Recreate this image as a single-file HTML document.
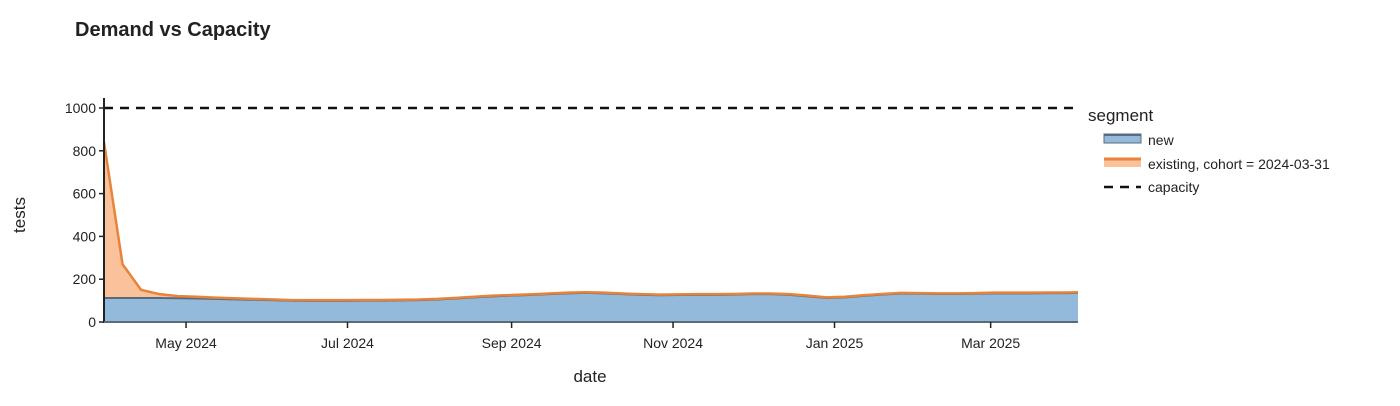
<!DOCTYPE html>
<html><head><meta charset="utf-8"><style>
body{margin:0;background:#fff;width:1400px;height:401px;overflow:hidden}
svg text{font-family:"Liberation Sans","DejaVu Sans",sans-serif;fill:#222}
</style></head><body>
<svg id="c" width="1400" height="401" xmlns="http://www.w3.org/2000/svg">
<text x="75" y="36" font-size="20" font-weight="bold">Demand vs Capacity</text>
<g id="plot"></g>
<text x="590" y="382" font-size="17" text-anchor="middle">date</text>
<text x="25" y="215" font-size="17" text-anchor="middle" transform="rotate(-90 25 215)">tests</text>
<g>
<text x="1088" y="121" font-size="17">segment</text>
<g>
<rect x="1104" y="134" width="37" height="9" fill="#93b9db" stroke="#5a6b7c" stroke-width="1"/>
<line x1="1104" y1="135" x2="1141" y2="135" stroke="#5a6b7c" stroke-width="2"/>
<text x="1148" y="145" font-size="14">new</text></g>
<g>
<rect x="1104" y="158" width="37" height="9" fill="#f9c29a"/>
<line x1="1104" y1="159" x2="1141" y2="159" stroke="#e8833a" stroke-width="3"/>
<text x="1148" y="169" font-size="14">existing, cohort = 2024-03-31</text></g>
<g>
<line x1="1104" y1="187" x2="1141" y2="187" stroke="#111" stroke-width="2.5" stroke-dasharray="9,7"/>
<text x="1148" y="192" font-size="14">capacity</text></g>
</g>
</svg>
<script>
const newVals=[112,112,112,112,111,110,108,106,104,102,100,99,99,99,100,100,101,102,105,110,115,120,123,126,130,134,136,134,130,127,125,126,127,127,128,130,130,127,120,112,115,122,128,133,132,131,131,132,134,134,134,135,135,136];
const existingVals=[728,158,38,18,10,8,6,5,4,4,3,3,3,3,3,3,3,3,3,3,3,3,3,3,3,3,3,3,3,3,3,3,3,3,3,3,3,3,3,3,3,3,3,3,3,3,3,3,3,3,3,3,3,3];
const capacity=1000;
const yTicks=[0,200,400,600,800,1000];
const xTickLabels=["May 2024","Jul 2024","Sep 2024","Nov 2024","Jan 2025","Mar 2025"];
const xTickDates=["2024-05-01","2024-07-01","2024-09-01","2024-11-01","2025-01-01","2025-03-01"];
const startDate="2024-03-31", endDate="2025-04-03";
const day=864e5, t0=Date.parse(startDate), t1=Date.parse(endDate);
const X0=104,X1=1078,Y0=322,Y1=108;
const xs=t=>X0+(t-t0)/(t1-t0)*(X1-X0);
const ys=v=>Y0-v/1000*(Y0-Y1);
const dates=newVals.map((_,i)=>i<newVals.length-1?t0+7*i*day:t1);
const NS="http://www.w3.org/2000/svg", g=document.getElementById('plot');
function mk(tag,a){const e=document.createElementNS(NS,tag);for(const k in a)e.setAttribute(k,a[k]);g.appendChild(e);return e;}
const totals=newVals.map((v,i)=>v+existingVals[i]);
const pNew=dates.map((d,i)=>xs(d)+','+ys(newVals[i]));
const pTot=dates.map((d,i)=>xs(d)+','+ys(totals[i]));
let e=mk('polygon',{points:pTot.join(' ')+' '+pNew.slice().reverse().join(' '),fill:'#f9c29a'});


e=mk('polygon',{points:xs(dates[0])+','+Y0+' '+pNew.join(' ')+' '+xs(dates[dates.length-1])+','+Y0,fill:'#93b9db'});


e=mk('polyline',{points:pNew.join(' '),fill:'none',stroke:'#5a6b7c','stroke-width':2});


e=mk('polyline',{points:pTot.join(' '),fill:'none',stroke:'#e8833a','stroke-width':2.5});


e=mk('line',{x1:X0,x2:X1,y1:ys(capacity),y2:ys(capacity),stroke:'#111','stroke-width':2.5,'stroke-dasharray':'9,7'});


e=mk('line',{x1:X0,x2:X0,y1:Y1-10,y2:Y0+1,stroke:'#222','stroke-width':2});


e=mk('line',{x1:X0,x2:X1,y1:Y0,y2:Y0,stroke:'#5a6b7c','stroke-width':2});


yTicks.forEach(v=>{
  mk('line',{x1:X0-5,x2:X0,y1:ys(v),y2:ys(v),stroke:'#222','stroke-width':1.5});
  const t=mk('text',{x:X0-8,y:ys(v)+5,'font-size':14,'text-anchor':'end'});t.textContent=v;
  
  
});
xTickDates.forEach((d,i)=>{
  const x=xs(Date.parse(d));
  mk('line',{x1:x,x2:x,y1:Y0,y2:Y0+6,stroke:'#222','stroke-width':1.5});
  const t=mk('text',{x:x,y:Y0+26,'font-size':14,'text-anchor':'middle'});t.textContent=xTickLabels[i];
  
  
});
</script>
</body></html>
